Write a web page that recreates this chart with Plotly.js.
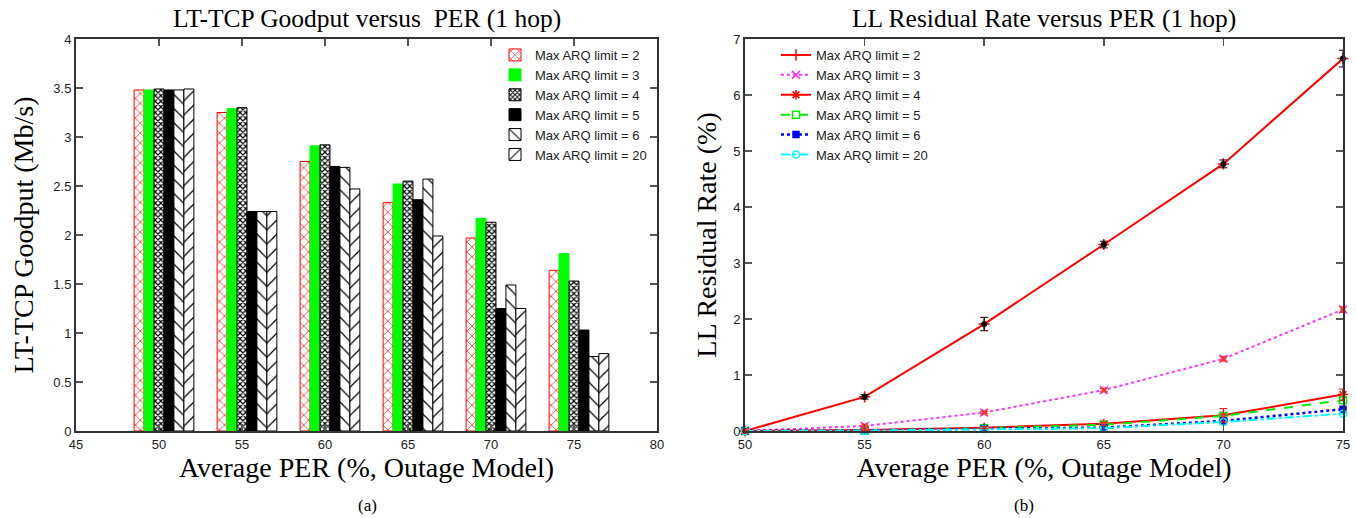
<!DOCTYPE html>
<html>
<head>
<meta charset="utf-8">
<script src="https://cdn.plot.ly/plotly-3.0.1.min.js"></script>
<style>html,body{margin:0;padding:0;background:#fff;}#chart{width:1356px;height:518px;}</style>
</head>
<body>
<div id="chart"></div>
<script>
// ---------- data ----------
const arqLabels = ['Max ARQ limit = 2','Max ARQ limit = 3','Max ARQ limit = 4','Max ARQ limit = 5','Max ARQ limit = 6','Max ARQ limit = 20'];

// (a) LT-TCP goodput (Mb/s) vs average PER (%)
const perBar = [50, 55, 60, 65, 70, 75];
const goodput2  = [3.48, 3.25, 2.75, 2.33, 1.97, 1.64];
const goodput3  = [3.48, 3.29, 2.91, 2.52, 2.17, 1.81];
const goodput4  = [3.49, 3.30, 2.92, 2.55, 2.13, 1.53];
const goodput5  = [3.48, 2.24, 2.70, 2.36, 1.25, 1.03];
const goodput6  = [3.48, 2.24, 2.69, 2.57, 1.49, 0.76];
const goodput20 = [3.49, 2.24, 2.47, 1.99, 1.25, 0.79];

// (b) LL residual rate (%) vs average PER (%)
const perLine = [50, 55, 60, 65, 70, 75];
const resid2  = [0, 0.61, 1.91, 3.33, 4.77, 6.65];
const resid2Err = [0, 0.04, 0.12, 0.06, 0.07, 0.15];
const resid3  = [0, 0.09, 0.33, 0.73, 1.29, 2.17];
const resid3Err = [0, 0.01, 0.02, 0.03, 0.04, 0.05];
const resid4  = [0, 0.02, 0.06, 0.13, 0.28, 0.65];
const resid4Err = [0, 0.01, 0.02, 0.03, 0.12, 0.10];
const resid5  = [0, 0.01, 0.05, 0.11, 0.27, 0.55];
const resid6  = [0, 0.01, 0.04, 0.06, 0.18, 0.39];
const resid20 = [0, 0.005, 0.03, 0.05, 0.16, 0.31];

// ---------- styles ----------
const goodputSeries = [goodput2, goodput3, goodput4, goodput5, goodput6, goodput20];
const barStyles = [
  {color:'#ffffff', line:'#ff0000', pattern:{shape:'x', fgcolor:'#ff0000', bgcolor:'#ffffff', size:7, solidity:0.18, fillmode:'replace'}},
  {color:'#00ff00', line:'#00ff00', pattern:null},
  {color:'#ffffff', line:'#000000', pattern:{shape:'x', fgcolor:'#000000', bgcolor:'#ffffff', size:4, solidity:0.5, fillmode:'replace'}},
  {color:'#000000', line:'#000000', pattern:null},
  {color:'#ffffff', line:'#000000', pattern:{shape:'\\', fgcolor:'#000000', bgcolor:'#ffffff', size:10, solidity:0.12, fillmode:'replace'}},
  {color:'#ffffff', line:'#000000', pattern:{shape:'/', fgcolor:'#000000', bgcolor:'#ffffff', size:10, solidity:0.12, fillmode:'replace'}}
];
const barW = 0.6, barStart = -1.5;

const traces = [];
goodputSeries.forEach((vals, i) => {
  const st = barStyles[i];
  const m = {color: st.color, line:{color: st.line, width:1}};
  if (st.pattern) m.pattern = st.pattern;
  traces.push({
    type:'bar', x: perBar, y: vals, name: arqLabels[i],
    xaxis:'x', yaxis:'y', legend:'legend',
    width: barW, offset: barStart + i*barW,
    marker: m
  });
});

const lineStyles = [
  {y: resid2,  color:'#ff0000', dash:'solid', width:2,   sym:'cross-thin-open', msize:8},
  {y: resid3,  color:'#ff33ff', dash:'dot',   width:2,   sym:'x-thin-open',     msize:8},
  {y: resid4,  color:'#ff0000', dash:'solid', width:2,   sym:'asterisk-open',   msize:8},
  {y: resid5,  color:'#00ee00', dash:'dash',  width:2,   sym:'square-open',     msize:7},
  {y: resid6,  color:'#0000ff', dash:'dot',   width:2.5, sym:'square',          msize:6},
  {y: resid20, color:'#00ffff', dash:'dashdot', width:2, sym:'circle-open',     msize:7}
];
lineStyles.forEach((st, i) => {
  traces.push({
    type:'scatter', mode:'lines+markers', x: perLine, y: st.y, name: arqLabels[i],
    xaxis:'x2', yaxis:'y2', legend:'legend2', cliponaxis:false,
    line:{color: st.color, dash: st.dash, width: st.width},
    marker:{symbol: st.sym, size: st.msize, color: st.color, line:{color: st.color, width:1.5}}
  });
});
// error-bar points
traces.push({
  type:'scatter', mode:'markers', x: perLine, y: resid2, showlegend:false,
  xaxis:'x2', yaxis:'y2', cliponaxis:false,
  marker:{symbol:'circle', size:6, color:'#000000'},
  error_y:{type:'data', array: resid2Err, color:'#000000', thickness:1, width:4}
});
traces.push({
  type:'scatter', mode:'markers', x: perLine, y: resid3, showlegend:false,
  xaxis:'x2', yaxis:'y2', cliponaxis:false,
  marker:{symbol:'x', size:6, color:'#ff3333'},
  error_y:{type:'data', array: resid3Err, color:'#ff3333', thickness:1, width:4}
});
traces.push({
  type:'scatter', mode:'markers', x: perLine, y: resid4, showlegend:false,
  xaxis:'x2', yaxis:'y2', cliponaxis:false,
  marker:{symbol:'triangle-down', size:6, color:'#ff3333'},
  error_y:{type:'data', array: resid4Err, color:'#ff0000', thickness:1, width:4}
});

// ---------- layout ----------
const W = 1356, H = 518;
const px = v => v / W, py = v => 1 - v / H;
const tickFont = {family:'Liberation Sans, Arial, sans-serif', size:13, color:'#222'};
const titleFont = {family:'Liberation Serif, Times New Roman, serif', size:25.5, color:'#000'};
const axTitleFont = {family:'Liberation Serif, Times New Roman, serif', size:28, color:'#000'};
const legendFont = {family:'Liberation Sans, Arial, sans-serif', size:13, color:'#222'};
const axisCommon = {
  showline:true, mirror:'ticks', linecolor:'#333', linewidth:2,
  ticks:'inside', ticklen:7, tickwidth:1.5, tickcolor:'#555',
  showgrid:false, zeroline:false, tickfont: tickFont, fixedrange:true
};

const layout = {
  width: W, height: H,
  margin:{l:0, r:0, t:0, b:0},
  paper_bgcolor:'#fff', plot_bgcolor:'#fff',
  barmode:'overlay',
  showlegend:true,
  xaxis: Object.assign({}, axisCommon, {
    domain:[px(76), px(657)], range:[45, 80], tickmode:'linear', tick0:45, dtick:5,
    anchor:'y', title:{text:'Average PER (%, Outage Model)', font:axTitleFont, standoff:0}
  }),
  yaxis: Object.assign({}, axisCommon, {
    domain:[py(431), py(39)], range:[0, 4], tickmode:'linear', tick0:0, dtick:0.5,
    anchor:'x', title:{text:'LT-TCP Goodput (Mb/s)', font:axTitleFont, standoff:12}
  }),
  xaxis2: Object.assign({}, axisCommon, {
    domain:[px(745), px(1343)], range:[50, 75], tickmode:'linear', tick0:50, dtick:5,
    anchor:'y2', title:{text:'Average PER (%, Outage Model)', font:axTitleFont, standoff:0}
  }),
  yaxis2: Object.assign({}, axisCommon, {
    domain:[py(431), py(39)], range:[0, 7], tickmode:'linear', tick0:0, dtick:1,
    anchor:'x2', title:{text:'LL Residual Rate (%)', font:axTitleFont, standoff:8}
  }),
  legend:{
    x: px(652), xanchor:'right', y: py(40), yanchor:'top',
    bgcolor:'rgba(255,255,255,0)', borderwidth:0,
    font: legendFont, tracegroupgap:0, traceorder:'normal'
  },
  legend2:{
    x: px(776), xanchor:'left', y: py(40), yanchor:'top',
    bgcolor:'rgba(255,255,255,0)', borderwidth:0,
    font: legendFont, tracegroupgap:0, traceorder:'normal'
  },
  annotations:[
    {text:'LT-TCP Goodput versus\u00a0 PER (1 hop)', xref:'paper', yref:'paper', x: px(367), y: py(18), xanchor:'center', yanchor:'middle', showarrow:false, font:titleFont},
    {text:'LL Residual Rate versus PER (1 hop)', xref:'paper', yref:'paper', x: px(1044), y: py(18), xanchor:'center', yanchor:'middle', showarrow:false, font:titleFont},
    {text:'(a)', xref:'paper', yref:'paper', x: px(367), y: py(505), xanchor:'center', yanchor:'middle', showarrow:false, font:{family:'Liberation Serif, serif', size:17, color:'#000'}},
    {text:'(b)', xref:'paper', yref:'paper', x: px(1024), y: py(505), xanchor:'center', yanchor:'middle', showarrow:false, font:{family:'Liberation Serif, serif', size:17, color:'#000'}}
  ]
};

Plotly.newPlot('chart', traces, layout, {displayModeBar:false, staticPlot:true});
</script>
</body>
</html>
